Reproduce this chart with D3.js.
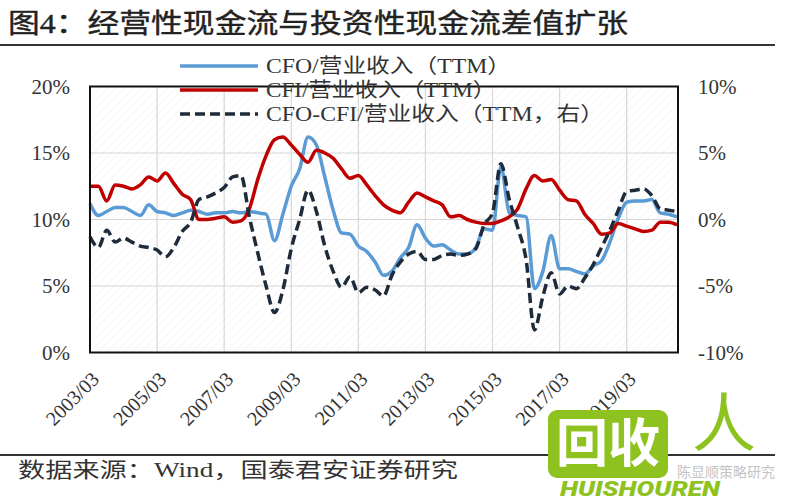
<!DOCTYPE html>
<html><head><meta charset="utf-8">
<script src="https://cdn.jsdelivr.net/npm/d3@7"></script>
<style>body{margin:0;background:#fff}svg{display:block}</style>
</head><body>
<svg id="chart" width="800" height="500"></svg>
<script>
// ---- data ----
const categories = [];
for (let y = 2003; y <= 2020; y++) for (const m of ["03","06","09","12"]) { if (!(y === 2020 && m === "12")) categories.push(y + "/" + m); }
const tickLabels = ["2003/03","2005/03","2007/03","2009/03","2011/03","2013/03","2015/03","2017/03","2019/03"];
const leftTicks = [0, 5, 10, 15, 20];
const rightTicks = [-10, -5, 0, 5, 10];
const cfo = [11.2,10.3,10.6,10.9,10.9,10.6,10.3,11.1,10.6,10.5,
  10.3,10.5,10.7,10.6,10.4,10.5,10.5,10.6,10.5,10.6,
  10.5,10.4,8.4,10.4,12.5,13.8,16.2,15.6,13.2,10.7,
  9.0,8.9,8.0,7.6,6.8,5.8,6.1,7.1,7.9,9.6,
  8.6,8.0,8.1,7.7,7.4,7.4,7.9,9.3,9.2,14.0,
  10.5,10.3,10.2,4.8,6.1,8.8,6.3,6.3,6.1,5.9,
  6.5,6.9,8.3,10.1,11.3,11.4,11.4,11.5,10.5,10.4,
  10.2];
const cfi = [12.5,12.5,11.4,12.6,12.5,12.3,12.6,13.2,12.9,13.5,
  12.7,11.9,11.5,10.0,10.0,10.1,10.2,9.8,9.9,10.8,
  13.0,14.8,16.0,16.2,15.6,14.9,14.3,15.2,15.0,14.6,
  13.8,13.1,13.3,12.6,11.8,11.1,10.7,10.5,11.3,12.0,
  11.7,11.4,11.1,10.2,10.3,10.0,9.8,9.7,9.7,9.9,
  10.2,10.8,12.3,13.3,12.9,13.0,12.2,11.5,11.4,10.4,
  9.7,8.9,9.0,9.7,9.5,9.3,9.1,9.2,9.8,9.8,
  9.6];
const diff = [-1.3,-2.1,-0.8,-1.7,-1.4,-1.7,-2.0,-2.1,-2.3,-2.8,
  -2.1,-0.9,-0.2,1.5,1.7,2.0,2.4,3.2,3.3,0.2,
  -2.5,-5.0,-7.0,-5.3,-2.2,0.0,2.2,0.6,-2.0,-3.9,
  -5.1,-4.3,-5.5,-5.1,-5.3,-5.75,-4.2,-3.2,-2.6,-2.4,
  -3.0,-3.0,-2.7,-2.6,-2.7,-2.6,-2.2,-0.4,0.5,4.2,
  1.5,-0.6,-3.0,-8.3,-5.8,-4.0,-5.6,-5.0,-5.2,-4.4,
  -3.4,-2.1,-0.8,0.7,2.1,2.2,2.3,1.8,0.8,0.7,
  0.6];
const seriesNames = ["CFO/营业收入（TTM）", "CFI/营业收入（TTM）", "CFO-CFI/营业收入（TTM，右）"];
const titleText = "图4：经营性现金流与投资性现金流差值扩张";
const sourceText = "数据来源：Wind，国泰君安证券研究";

// ---- layout ----
const L = 90, R = 678, T = 86.5, B = 352.5;
const serif = "'Liberation Serif','Times New Roman','Noto Sans CJK SC',serif";
const svg = d3.select("#chart");

const x = d3.scalePoint().domain(categories).range([L, R - 1]);
const yL = d3.scaleLinear().domain([0, 20]).range([B, T]);
const yR = d3.scaleLinear().domain([-10, 10]).range([B, T]);

// faint hatch background
const defs = svg.append("defs");
const pat = defs.append("pattern").attr("id","hatch").attr("width",6).attr("height",6)
  .attr("patternUnits","userSpaceOnUse").attr("patternTransform","rotate(45)");
pat.append("line").attr("x1",0).attr("y1",0).attr("x2",0).attr("y2",6).attr("stroke","#f1f1f1").attr("stroke-width",1.2);
svg.append("rect").attr("x",L).attr("y",T).attr("width",R-L).attr("height",B-T).attr("fill","url(#hatch)");

// title
svg.append("text").attr("x",8).attr("y",33).attr("font-family",serif).attr("font-size",27)
  .attr("fill","#222").attr("stroke","#222").attr("stroke-width",0.4)
  .attr("textLength",620).attr("lengthAdjust","spacingAndGlyphs").text(titleText);
svg.append("line").attr("x1",0).attr("x2",775).attr("y1",45).attr("y2",45).attr("stroke","#333").attr("stroke-width",2);

// gridlines
const g = svg.append("g");
g.selectAll(".hg").data([5,10,15]).join("line").attr("x1",L).attr("x2",R)
  .attr("y1",d=>yL(d)).attr("y2",d=>yL(d)).attr("stroke","#d6d6d6").attr("stroke-width",1.2);
g.selectAll(".vg").data(tickLabels.slice(1)).join("line").attr("x1",d=>x(d)).attr("x2",d=>x(d))
  .attr("y1",T).attr("y2",B).attr("stroke","#d6d6d6").attr("stroke-width",1.2);

// axes
const axL = svg.append("g").attr("transform",`translate(${L},0)`)
  .call(d3.axisLeft(yL).tickValues(leftTicks).tickFormat(d=>d+"%").tickSize(0).tickPadding(20));
const axR = svg.append("g").attr("transform",`translate(${R},0)`)
  .call(d3.axisRight(yR).tickValues(rightTicks).tickFormat(d=>d+"%").tickSize(0).tickPadding(20));
const axB = svg.append("g").attr("transform",`translate(0,${B})`)
  .call(d3.axisBottom(x).tickValues(tickLabels).tickSize(0));
[axL, axR, axB].forEach(a => {
  a.select(".domain").remove();
  a.selectAll("text").attr("font-family",serif).attr("font-size",21).attr("fill","#333");
});
axB.selectAll("text").attr("font-size",20).attr("y",0).attr("x",0).attr("dy","0.35em")
  .attr("text-anchor","end").attr("transform","translate(5,23) rotate(-45)");

// lines
const line = (sc) => d3.line().x((d,i)=>x(categories[i])).y(d=>sc(d)).curve(d3.curveMonotoneX);
svg.append("path").datum(cfo).attr("d",line(yL)).attr("fill","none").attr("stroke","#5b9bd5").attr("stroke-width",3.5).attr("stroke-linejoin","round");
svg.append("path").datum(cfi).attr("d",line(yL)).attr("fill","none").attr("stroke","#c00000").attr("stroke-width",3.5).attr("stroke-linejoin","round");
svg.append("path").datum(diff).attr("d",line(yR)).attr("fill","none").attr("stroke","#1e2b3a").attr("stroke-width",3.5).attr("stroke-dasharray","10,5");

// frame
svg.append("rect").attr("x",L).attr("y",T).attr("width",R-L).attr("height",B-T)
  .attr("fill","none").attr("stroke","#111").attr("stroke-width",2);

// legend
const legColors = ["#5b9bd5","#c00000","#1e2b3a"];
const legY = [66, 90, 114];
const legW = [245, 230, 338];
const leg = svg.append("g");
seriesNames.forEach((n,i) => {
  leg.append("line").attr("x1",180).attr("x2",258).attr("y1",legY[i]).attr("y2",legY[i])
    .attr("stroke",legColors[i]).attr("stroke-width",3.5).attr("stroke-dasharray", i===2 ? "10,5" : null);
  leg.append("text").attr("x",266).attr("y",legY[i]).attr("dy","0.35em").attr("font-family",serif)
    .attr("font-size",20).attr("fill","#333").attr("textLength",legW[i]).attr("lengthAdjust","spacingAndGlyphs").text(n);
});

// footer
svg.append("line").attr("x1",0).attr("x2",775).attr("y1",455).attr("y2",455).attr("stroke","#333").attr("stroke-width",2);
svg.append("text").attr("x",18).attr("y",477).attr("font-family",serif).attr("font-size",21)
  .attr("fill","#333").attr("textLength",440).attr("lengthAdjust","spacingAndGlyphs").text(sourceText);

// watermark
const wm = svg.append("g");
wm.append("text").attr("x",775).attr("y",477).attr("text-anchor","end").attr("font-family","'Noto Sans CJK SC',sans-serif")
  .attr("font-size",14).attr("fill","#c4c4c4").text("陈显顺策略研究");
wm.append("rect").attr("x",548).attr("y",410).attr("width",120).attr("height",68).attr("rx",9).attr("fill","#8dc21f");
wm.append("text").attr("x",608).attr("y",462).attr("text-anchor","middle").attr("font-family","'Noto Sans CJK SC',sans-serif")
  .attr("font-weight",700).attr("font-size",52).attr("fill","#fff").text("回收");
wm.append("text").attr("x",724).attr("y",446).attr("text-anchor","middle").attr("font-family","'Noto Sans CJK SC',sans-serif")
  .attr("font-size",64).attr("fill","#8dc21f").text("人");
wm.append("text").attr("x",560).attr("y",496).attr("font-family","Roboto,sans-serif").attr("font-style","italic")
  .attr("font-weight",900).attr("font-size",21).attr("fill","#8dc21f").attr("textLength",160).attr("lengthAdjust","spacingAndGlyphs").text("HUISHOUREN");
</script>
</body></html>
